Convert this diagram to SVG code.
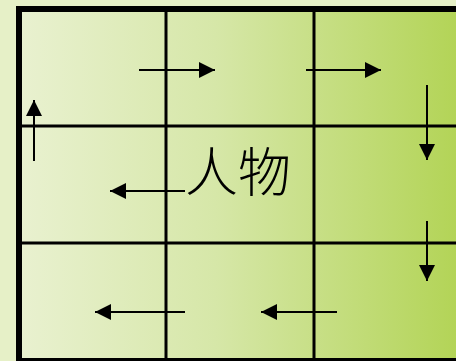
<svg xmlns="http://www.w3.org/2000/svg" width="456" height="361" viewBox="0 0 456 361">
  <defs>
    <linearGradient id="bg" x1="19" y1="0" x2="456" y2="0" gradientUnits="userSpaceOnUse">
      <stop offset="0" stop-color="#e9f1d0"/>
      <stop offset="0.45" stop-color="#d6e7a8"/>
      <stop offset="1" stop-color="#b3d457"/>
    </linearGradient>
    <marker id="ah" markerUnits="userSpaceOnUse" markerWidth="16" markerHeight="16" viewBox="0 0 16 16" refX="16" refY="8" orient="auto">
      <path d="M0,0 L16,8 L0,16 Z" fill="#000"/>
    </marker>
  </defs>
  <style>
    .grid { stroke: #000; stroke-width: 3; fill: none; }
    .arr { stroke: #000; stroke-width: 2; fill: none; marker-end: url(#ah); }
    .lbl { font-family: "Noto Sans CJK SC", "Noto Sans CJK JP", sans-serif; font-size: 53px; font-weight: 300; fill: #000; }
  </style>
  <rect x="0" y="0" width="456" height="361" fill="#e6f0c7"/>
  <g id="board">
    <rect x="19" y="9" width="445" height="352" fill="url(#bg)" stroke="#000" stroke-width="6"/>
    <line class="grid" x1="166" y1="9" x2="166" y2="361"/>
    <line class="grid" x1="314" y1="9" x2="314" y2="361"/>
    <line class="grid" x1="19" y1="126" x2="456" y2="126"/>
    <line class="grid" x1="19" y1="243" x2="456" y2="243"/>
  </g>
  <g id="connectors">
    <line class="arr" x1="34" y1="161" x2="34" y2="100"/>
    <line class="arr" x1="139" y1="70" x2="215" y2="70"/>
    <line class="arr" x1="306" y1="70" x2="381" y2="70"/>
    <line class="arr" x1="427" y1="85" x2="427" y2="160"/>
    <line class="arr" x1="427" y1="221" x2="427" y2="281"/>
    <line class="arr" x1="337" y1="312" x2="261" y2="312"/>
    <line class="arr" x1="185" y1="312" x2="95" y2="312"/>
    <line class="arr" x1="185" y1="191" x2="110" y2="191"/>
  </g>
  <g id="person">
    <text class="lbl" x="185" y="192">人物</text>
  </g>
</svg>
